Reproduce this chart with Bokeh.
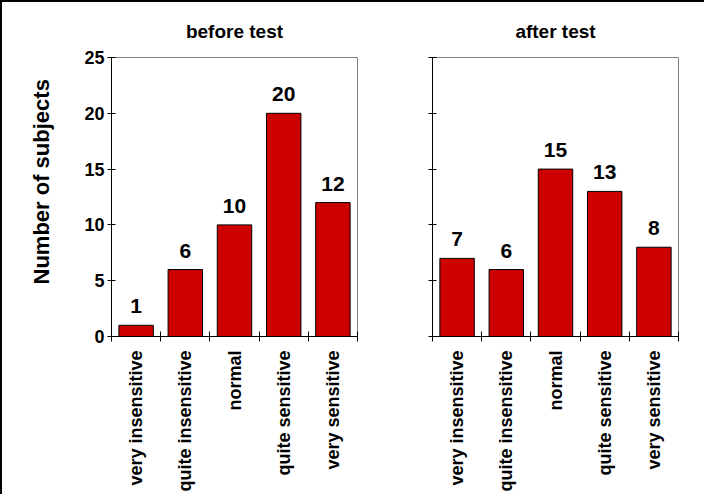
import math
from bokeh.plotting import figure
from bokeh.layouts import row
from bokeh.models import Range1d, FixedTicker, ColumnDataSource, CustomJSTickFormatter, Title
from bokeh.core.properties import value
from bokeh.embed import file_html
from bokeh.resources import INLINE

categories = ["very insensitive", "quite insensitive", "normal", "quite sensitive", "very sensitive"]
before_test = [1, 6, 10, 20, 12]
after_test = [7, 6, 15, 13, 8]
panel_titles = ["before test", "after test"]
y_label = "Number of subjects"
y_ticks = [0, 5, 10, 15, 20, 25]

FONT = "Liberation Sans"
BAR_RED = "#CC0000"


def make_panel(title, values, first, mb_left, mb_right):
    n = len(categories)
    pos = [i + 0.5 for i in range(n)]
    src = ColumnDataSource(dict(x=pos, top=values, label=[str(v) for v in values]))
    p = figure(
        frame_width=246, frame_height=279,
        x_range=Range1d(0, n), y_range=Range1d(y_ticks[0], y_ticks[-1]),
        output_backend="svg", toolbar_location=None,
        min_border_left=mb_left, min_border_right=mb_right,
        min_border_top=55, min_border_bottom=150,
        title=title,
    )
    p.background_fill_color = "white"
    p.border_fill_color = "white"
    p.outline_line_color = "#808080"
    p.outline_line_width = 1
    p.xgrid.visible = False
    p.ygrid.visible = False

    p.title.text_font = FONT
    p.title.text_font_size = "19px"
    p.title.text_font_style = "bold"
    p.title.align = "center"
    p.title.text_color = "black"
    p.title.standoff = 31

    p.vbar(x="x", top="top", width=0.7, source=src,
           fill_color=BAR_RED, line_color="black", line_width=1)
    p.text(x="x", y="top", text="label", source=src,
           text_font=value(FONT), text_font_size="21px", text_font_style="bold",
           text_align="center", text_baseline="alphabetic", y_offset=-19,
           text_color="black")

    xa = p.xaxis[0]
    xa.ticker = FixedTicker(ticks=pos, minor_ticks=list(range(n + 1)))
    xa.major_label_overrides = {pp: c for pp, c in zip(pos, categories)}
    xa.major_label_orientation = math.pi / 2
    xa.major_tick_in = 0
    xa.major_tick_out = 0
    xa.minor_tick_in = 5
    xa.minor_tick_out = 5
    xa.minor_tick_line_color = "black"
    xa.axis_line_color = "black"
    xa.major_label_standoff = 9
    xa.major_label_text_font = FONT
    xa.major_label_text_font_size = "18px"
    xa.major_label_text_font_style = "bold"
    xa.major_label_text_color = "black"

    ya = p.yaxis[0]
    ya.ticker = FixedTicker(ticks=y_ticks, minor_ticks=[])
    ya.major_tick_in = 4
    ya.major_tick_out = 4
    ya.major_tick_line_color = "black"
    ya.axis_line_color = "black"
    ya.major_label_standoff = 3
    ya.major_label_text_font = FONT
    ya.major_label_text_font_size = "18px"
    ya.major_label_text_font_style = "bold"
    ya.major_label_text_color = "black"
    if first:
        ytitle = Title(text=y_label, align="left", offset=52, standoff=51,
                       vertical_align="top",
                       text_font=FONT, text_font_size="22px", text_font_style="bold",
                       text_color="black")
        p.add_layout(ytitle, "left")
    else:
        ya.formatter = CustomJSTickFormatter(code="return '';")
    return p


p1 = make_panel(panel_titles[0], before_test, True, 109, 5)
p2 = make_panel(panel_titles[1], after_test, False, 70, 26)

layout = row(p1, p2, styles={"border-left": "2px solid black", "border-top": "2px solid black"})

open("out.html", "w").write(file_html(layout, INLINE))
